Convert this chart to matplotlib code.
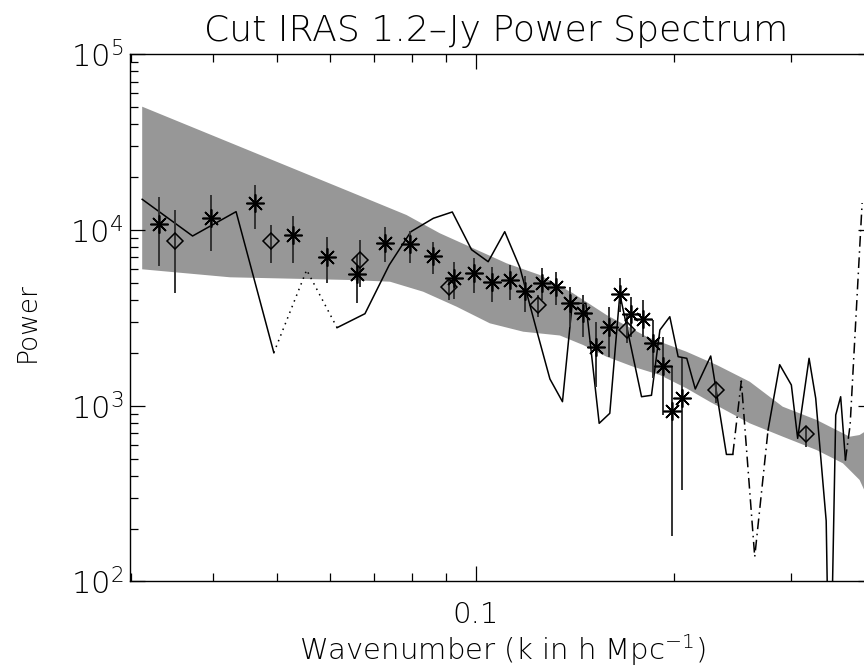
import numpy as np
import matplotlib
matplotlib.use("Agg")
import matplotlib.pyplot as plt
from matplotlib import ticker

plt.rcParams["font.family"] = ["DejaVu Sans"]
plt.rcParams["font.weight"] = "light"
plt.rcParams["mathtext.fontset"] = "custom"
plt.rcParams["mathtext.rm"] = "DejaVu Sans:light"
plt.rcParams["mathtext.it"] = "DejaVu Sans:light"

# ---- data ------------------------------------------------------------
# asterisks (cut sample) with error bars
k_star = [0.0331, 0.0397, 0.0463, 0.0529, 0.0595, 0.0661, 0.0728, 0.0794,
          0.0861, 0.0927, 0.0992, 0.1059, 0.1126, 0.1189, 0.1258, 0.1323,
          0.1391, 0.1454, 0.1523, 0.1591, 0.1653, 0.1720, 0.1790, 0.1857,
          0.1923, 0.1986, 0.2054]
p_star = [10819, 11749, 14191, 9329, 7047, 5597, 8467, 8323, 7085, 5311,
          5670, 5079, 5193, 4496, 4973, 4756, 3826, 3383, 2150, 2794, 4322,
          3326, 3102, 2265, 1683, 937, 1102]
p_star_lo = [6240, 7625, 10131, 6515, 4993, 3841, 6601, 6515, 5618, 4032,
             4396, 3908, 3996, 3428, 3996, 3742, 2816, 2470, 1283, 1901,
             3428, 2470, 2470, 1432, 885, 181, 331]
p_star_hi = [15410, 15820, 18040, 12060, 9125, 7206, 10401, 9909, 8578,
             6575, 6928, 6181, 6321, 5474, 6077, 5790, 4756, 4267, 3007,
             3660, 5332, 4173, 3996, 3074, 2470, 1667, 1861]

# diamonds
k_diam = [0.0350, 0.0489, 0.0668, 0.0909, 0.1242, 0.1696, 0.2316, 0.3162]
p_diam = [8694, 8660, 6749, 4719, 3742, 2697, 1229, 690]
p_diam_lo = [4379, 6490, 4738, 3996, 3209, 2265, 1032, 584]
p_diam_hi = [13000, 10680, 8774, 5332, 4267, 3282, 1370, 760]

# shaded model band
k_band_up = [0.0312, 0.0644, 0.0785, 0.0882, 0.0991, 0.1113, 0.1250,
             0.1404, 0.1578, 0.1815, 0.2086, 0.2318, 0.2601, 0.2919,
             0.3287, 0.3687, 0.3817, 0.3880]
p_band_up = [50330, 16520, 12170, 9577, 7868, 6465, 5545, 4362, 3282, 2470,
             2029, 1705, 1370, 987, 829, 666, 681, 708]
k_band_lo = [0.0312, 0.0424, 0.0644, 0.0741, 0.0832, 0.0935, 0.1050,
             0.1180, 0.1341, 0.1454, 0.1578, 0.1732, 0.1901, 0.2086,
             0.2262, 0.2601, 0.2921, 0.3283, 0.3602, 0.3817, 0.3880]
p_band_lo = [5975, 5381, 5193, 5079, 4455, 3660, 2944, 2637, 2509, 2216,
             1901, 1667, 1495, 1256, 1054, 794, 666, 560, 470, 378, 331]

# line, split by drawing style
k_solid1 = [0.0312, 0.0372, 0.0433, 0.0494]
p_solid1 = [14950, 9245, 12715, 2003]
k_dot1 = [0.0494, 0.0554, 0.0616]
p_dot1 = [2003, 5920, 2780]
k_solid2 = [0.0616, 0.0679, 0.0739, 0.0797, 0.0862, 0.0921, 0.0985, 0.1044,
            0.1106, 0.1166, 0.1236, 0.1295, 0.1353, 0.1400, 0.1468, 0.1538,
            0.1596, 0.1653, 0.1783, 0.1846, 0.1901, 0.1968, 0.2026, 0.2088,
            0.2151, 0.2270, 0.2398, 0.2452]
p_solid2 = [2780, 3339, 6321, 9779, 11657, 12665, 7727, 6601, 9779, 6118,
            2697, 1419, 1054, 3826, 3826, 794, 905, 4322, 1125, 1146, 2697,
            3209, 1901, 1861, 1245, 1918, 528, 528]
k_dd1 = [0.2452, 0.2526, 0.2647, 0.2773]
p_dd1 = [528, 1382, 138, 727]
k_solid3 = [0.2773, 0.2888, 0.3008, 0.3075, 0.3200, 0.3275, 0.3397, 0.3439,
            0.3512, 0.3573, 0.3633]
p_solid3 = [727, 1712, 1312, 652, 1861, 1102, 221, 13.7, 885, 1125, 491]
k_dd2 = [0.3633, 0.3693, 0.3851]
p_dd2 = [491, 776, 14245]

# ---- figure ------------------------------------------------------------
W, H = 864, 670
fig = plt.figure(figsize=(W / 100, H / 100), dpi=100)
ax = fig.add_axes([130 / W, (H - 581.4) / H, (873 - 130) / W,
                   (581.4 - 54.3) / H])
ax.set_xscale("log")
ax.set_yscale("log")
ax.set_xlim(0.0299, 0.40)
ax.set_ylim(100, 1e5)

band_k = np.concatenate([k_band_up, k_band_lo[::-1]])
band_p = np.concatenate([p_band_up, p_band_lo[::-1]])
ax.fill(band_k, band_p, color="#979797", lw=0, zorder=1)

ax.plot(k_solid1, p_solid1, color="k", lw=1.1, zorder=3)
ax.plot(k_dot1, p_dot1, color="k", lw=1.1, ls=(0, (1, 3)), zorder=3)
ax.plot(k_solid2, p_solid2, color="k", lw=1.1, zorder=3)
ax.plot(k_dd1, p_dd1, color="k", lw=1.1, ls=(0, (7, 3, 1, 3)), zorder=3)
ax.plot(k_solid3, p_solid3, color="k", lw=1.1, zorder=3)
ax.plot(k_dd2, p_dd2, color="k", lw=1.1, ls=(0, (7, 3, 1, 3)), zorder=3)

ks, ps = np.array(k_star), np.array(p_star)
ax.vlines(ks, p_star_lo, p_star_hi, color="#333333", lw=1.4, zorder=4)
ax.plot(ks, ps, ls="none", marker=(8, 2, 0), ms=13, mew=1.2, color="k",
        zorder=5)
kd = np.array(k_diam)
ax.vlines(kd, p_diam_lo, p_diam_hi, color="#333333", lw=1.4, zorder=4)
ax.plot(kd, p_diam, ls="none", marker="D", ms=8.5, mew=1.1, mfc="none",
        mec="k", zorder=5)

ax.xaxis.set_major_locator(ticker.FixedLocator([0.1]))
ax.xaxis.set_major_formatter(ticker.FixedFormatter(["0.1"]))
ax.xaxis.set_minor_locator(ticker.LogLocator(base=10, subs=np.arange(2, 10)))
ax.xaxis.set_minor_formatter(ticker.NullFormatter())
ax.yaxis.set_major_locator(ticker.LogLocator(base=10, numticks=10))
ax.yaxis.set_major_formatter(
    ticker.FuncFormatter(lambda v, p: r"$10^{%d}$" % round(np.log10(v))))
ax.yaxis.set_minor_locator(ticker.LogLocator(base=10, subs=np.arange(2, 10),
                                             numticks=10))
ax.yaxis.set_minor_formatter(ticker.NullFormatter())
ax.tick_params(which="both", direction="in", top=True, right=True,
               width=0.9)
ax.tick_params(which="major", length=11, pad=5)
ax.tick_params(which="minor", length=5.5)
ax.tick_params(axis="y", which="major", labelsize=22)
ax.tick_params(axis="x", which="major", pad=14, labelsize=21)
for s in ax.spines.values():
    s.set_linewidth(1.0)

fig.text(496 / W, 1 - 41 / H, "Cut IRAS 1.2\u2013Jy Power Spectrum",
         ha="center", va="baseline", fontsize=26)
fig.text(27 / W, 1 - 322 / H, "Power", rotation=90, ha="center",
         va="center", fontsize=19)
fig.text(502 / W, 1 - 650 / H, "Wavenumber (k in h Mpc$^{-1}$)",
         ha="center", va="center", fontsize=21)

fig.savefig("out.png", dpi=100)
